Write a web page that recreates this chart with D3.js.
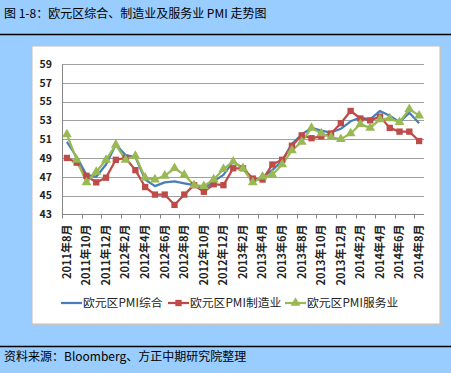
<!DOCTYPE html>
<html>
<head>
<meta charset="utf-8">
<script src="https://cdn.jsdelivr.net/npm/d3@7"></script>
<style>
  body { margin: 0; background: #99CCFF; }
  svg { display: block; }
  text { font-family: "Noto Sans CJK SC", sans-serif; }
</style>
</head>
<body>
<div id="chart-area"></div>
<script>
// months, Aug 2011 .. Aug 2014
const months = [
  "2011年8月","2011年9月","2011年10月","2011年11月","2011年12月",
  "2012年1月","2012年2月","2012年3月","2012年4月","2012年5月","2012年6月",
  "2012年7月","2012年8月","2012年9月","2012年10月","2012年11月","2012年12月",
  "2013年1月","2013年2月","2013年3月","2013年4月","2013年5月","2013年6月",
  "2013年7月","2013年8月","2013年9月","2013年10月","2013年11月","2013年12月",
  "2014年1月","2014年2月","2014年3月","2014年4月","2014年5月","2014年6月",
  "2014年7月","2014年8月"
];

const composite = [50.7,49.1,47.2,47.0,48.3,50.4,49.3,49.1,46.7,46.0,46.4,
  46.5,46.3,46.1,45.7,46.5,47.2,48.6,47.9,46.5,46.9,47.7,48.7,
  50.5,51.5,52.2,51.9,51.7,52.1,52.9,53.3,53.1,54.0,53.5,52.8,53.8,52.7];

const manufacturing = [49.0,48.5,47.1,46.4,46.9,48.8,49.0,47.7,45.9,45.1,45.1,
  44.0,45.1,46.1,45.4,46.2,46.1,47.9,47.9,46.8,46.7,48.3,48.8,
  50.3,51.4,51.1,51.3,51.6,52.7,54.0,53.2,53.0,53.4,52.2,51.8,51.8,50.8];

const services = [51.5,48.8,46.4,47.5,48.8,50.4,48.8,49.2,46.9,46.7,47.1,
  47.9,47.2,46.1,46.0,46.7,47.8,48.6,47.9,46.4,47.0,47.2,48.3,
  49.8,50.7,52.2,51.6,51.2,51.0,51.6,52.6,52.2,53.1,53.2,52.8,54.2,53.5];

const yTicks = [43,45,47,49,51,53,55,57,59];

const seriesNames = ["欧元区PMI综合","欧元区PMI制造业","欧元区PMI服务业"];
const colorList = ["#4A7EBB","#BE4B48","#98B954"];

const svg = d3.select("#chart-area").append("svg")
  .attr("width", 451)
  .attr("height", 373);

svg.append("rect").attr("width", 451).attr("height", 373).attr("fill", "#99CCFF");

// title + rules
svg.append("text").attr("x", 4).attr("y", 18)
  .attr("font-size", 12).attr("fill", "#000")
  .text("图 1-8：欧元区综合、制造业及服务业 PMI 走势图");
svg.append("line").attr("x1", 0).attr("x2", 451).attr("y1", 34.5).attr("y2", 34.5)
  .attr("stroke", "#000").attr("stroke-width", 1.5);
svg.append("line").attr("x1", 0).attr("x2", 451).attr("y1", 346.5).attr("y2", 346.5)
  .attr("stroke", "#000").attr("stroke-width", 1.5);
svg.append("text").attr("x", 4).attr("y", 361)
  .attr("font-size", 12).attr("fill", "#000")
  .text("资料来源：Bloomberg、方正中期研究院整理");

// chart box
svg.append("rect").attr("x", 33).attr("y", 47).attr("width", 408).attr("height", 278)
  .attr("fill", "#C8C8C8");
svg.append("rect").attr("x", 32).attr("y", 46).attr("width", 408).attr("height", 278)
  .attr("fill", "#fff").attr("stroke", "#BFBFBF").attr("stroke-width", 1);

var x = d3.scaleBand().domain(months).range([62, 424]);
var y = d3.scaleLinear().domain([43, 59]).range([214.3, 64]);
var cx = function (i) { return x(months[i]) + x.bandwidth() / 2; };

// gridlines
svg.append("g").selectAll("line")
  .data(yTicks.slice(1)).enter().append("line")
  .attr("x1", 62).attr("x2", 424)
  .attr("y1", function (d) { return Math.round(y(d)) + 0.5; })
  .attr("y2", function (d) { return Math.round(y(d)) + 0.5; })
  .attr("stroke", "#A0A0A0").attr("stroke-width", 1);

// y axis
var axisy = d3.axisLeft(y).tickValues(yTicks).tickSize(0).tickPadding(10);
var gy = svg.append("g").attr("transform", "translate(62,0)").call(axisy);
gy.select(".domain").attr("stroke", "#868686");
gy.selectAll("text").attr("font-family", "Liberation Serif").attr("font-size", 10.5)
  .attr("font-weight", "bold").attr("fill", "#222");

// x axis
var gx = svg.append("g").attr("transform", "translate(0,214.5)");
gx.append("line").attr("x1", 62).attr("x2", 424).attr("stroke", "#868686");
gx.selectAll(".tk").data(d3.range(0, months.length, 2)).enter().append("line")
  .attr("class", "tk")
  .attr("x1", function (i) { return Math.round(x(months[i])) + 0.5; })
  .attr("x2", function (i) { return Math.round(x(months[i])) + 0.5; })
  .attr("y1", 0).attr("y2", 4).attr("stroke", "#868686");
gx.selectAll(".lb").data(d3.range(0, months.length, 2)).enter().append("text")
  .attr("class", "lb")
  .attr("transform", function (i) { return "translate(" + cx(i) + ",10) rotate(-90)"; })
  .attr("text-anchor", "end").attr("dy", "0.35em")
  .attr("font-size", 11).attr("font-weight", "bold").attr("fill", "#222")
  .text(function (i) { return months[i]; });

// lines
var allSeries = [composite, manufacturing, services];
var line = d3.line().x(function (d, i) { return cx(i); }).y(function (d) { return y(d); });

allSeries.forEach(function (s, k) {
  svg.append("path").datum(s)
    .attr("d", line).attr("fill", "none")
    .attr("stroke", colorList[k]).attr("stroke-width", 2.25)
    .attr("stroke-linejoin", "round");
});

// markers
var square = d3.symbol().type(d3.symbolSquare).size(40);
var tri = d3.symbol().type(d3.symbolTriangle).size(42);
svg.append("g").selectAll("path").data(manufacturing).enter().append("path")
  .attr("d", square)
  .attr("transform", function (d, i) { return "translate(" + cx(i) + "," + y(d) + ")"; })
  .attr("fill", colorList[1]);
svg.append("g").selectAll("path").data(services).enter().append("path")
  .attr("d", tri)
  .attr("transform", function (d, i) { return "translate(" + cx(i) + "," + y(d) + ")"; })
  .attr("fill", colorList[2]);

// legend
var legX = [61, 168, 285];
var leg = svg.append("g").attr("transform", "translate(0,303)");
seriesNames.forEach(function (name, k) {
  leg.append("line").attr("x1", legX[k]).attr("x2", legX[k] + 21)
    .attr("stroke", colorList[k]).attr("stroke-width", 2.25);
  if (k == 1) {
    leg.append("path").attr("d", square).attr("transform", "translate(" + (legX[k] + 10.5) + ",0)")
      .attr("fill", colorList[k]);
  } else if (k == 2) {
    leg.append("path").attr("d", tri).attr("transform", "translate(" + (legX[k] + 10.5) + ",0)")
      .attr("fill", colorList[k]);
  }
  leg.append("text").attr("x", legX[k] + 22).attr("dy", "0.35em")
    .attr("font-size", 11.8).attr("fill", "#222").text(name);
});
</script>
</body>
</html>
